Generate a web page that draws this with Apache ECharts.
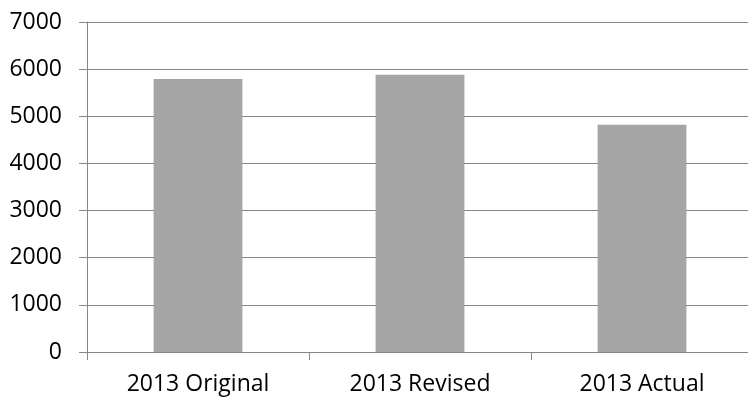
<!DOCTYPE html>
<html>
<head>
<meta charset="utf-8">
<script src="https://cdn.jsdelivr.net/npm/echarts@6/dist/echarts.min.js"></script>
<style>
  html, body { margin: 0; padding: 0; background: #fff; overflow: hidden; }
  /* 图表右边缘略超出画面，与原图一致 */
  #main { width: 753px; height: 401px; }
</style>
</head>
<body>
<div id="main"></div>
<script>
// 数据
var categories = ['2013 Original', '2013 Revised', '2013 Actual'];
var values = [5790, 5880, 4820];
var yTicks = [0, 1000, 2000, 3000, 4000, 5000, 6000, 7000];

var myChart = echarts.init(document.getElementById('main'));
var lineColor = '#868686';

var option = {
    animation: false,
    grid: {
        left: 87,
        right: 0,
        top: 22,
        bottom: 49
    },
    xAxis: {
        type: 'category',
        data: categories,
        axisLine: { lineStyle: { color: lineColor, width: 1 } },
        axisTick: { show: true, length: 8, alignWithLabel: false, lineStyle: { color: lineColor } },
        axisLabel: {
            margin: 21,
            color: '#000',
            fontFamily: 'Open Sans',
            fontSize: 23
        }
    },
    yAxis: {
        type: 'value',
        min: yTicks[0],
        max: yTicks[yTicks.length - 1],
        interval: 1000,
        axisLine: { show: true, lineStyle: { color: lineColor, width: 1 } },
        axisTick: { show: true, length: 8, lineStyle: { color: lineColor } },
        splitLine: { lineStyle: { color: lineColor, width: 1 } },
        axisLabel: {
            margin: 25,
            color: '#000',
            fontFamily: 'Open Sans',
            fontSize: 23,
            formatter: function (v) { return String(v); }
        }
    },
    series: [{
        type: 'bar',
        data: values,
        barWidth: '40%',
        itemStyle: { color: '#a5a5a5' }
    }]
};

// 使用刚指定的配置项和数据显示图表。
myChart.setOption(option);
</script>
</body>
</html>
